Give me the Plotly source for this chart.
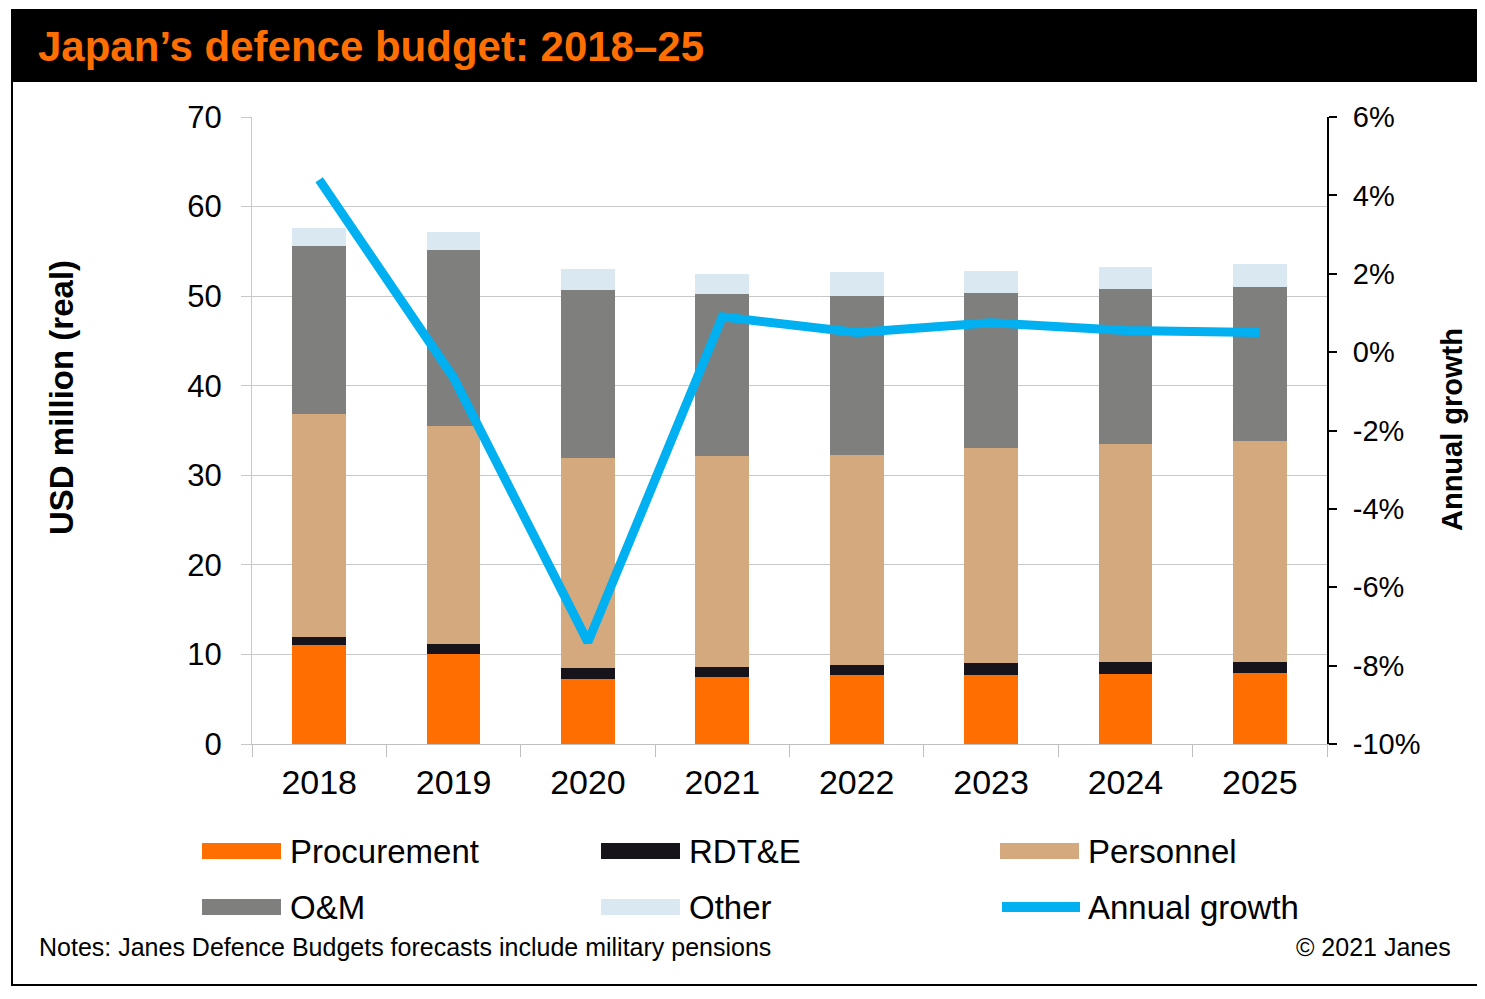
import plotly.graph_objects as go

# ---- data ----
years = ["2018", "2019", "2020", "2021", "2022", "2023", "2024", "2025"]
procurement = [11.0, 10.0, 7.3, 7.5, 7.7, 7.75, 7.8, 7.95]
rdte = [0.95, 1.2, 1.2, 1.05, 1.1, 1.3, 1.35, 1.25]
personnel = [24.9, 24.3, 23.4, 23.6, 23.5, 24.05, 24.3, 24.6]
om = [18.75, 19.6, 18.8, 18.05, 17.75, 17.3, 17.35, 17.2]
other = [2.0, 2.1, 2.3, 2.3, 2.65, 2.4, 2.5, 2.6]
growth = [4.4, -0.65, -7.4, 0.9, 0.5, 0.75, 0.55, 0.5]

left_ticks = [0, 10, 20, 30, 40, 50, 60, 70]
right_ticks = [-10, -8, -6, -4, -2, 0, 2, 4, 6]
right_tick_labels = ["-10%", "-8%", "-6%", "-4%", "-2%", "0%", "2%", "4%", "6%"]

series_names = ["Procurement", "RDT&E", "Personnel", "O&M", "Other", "Annual growth"]
colors = ["#FF6E00", "#16131B", "#D4A97E", "#7F7F7D", "#DAE8F2", "#00B0F0"]

title_text = "Japan’s defence budget: 2018–25"
notes_text = "Notes: Janes Defence Budgets forecasts include military pensions"
copyright_text = "© 2021 Janes"

# ---- layout geometry (reference pixels; page body adds an 8px margin) ----
OFF = 8
W, H = 1485 - OFF, 999 - 2 * OFF
L, R, T, B = 252 - OFF, 1327 - OFF, 117 - OFF, 744 - OFF
FONT = "Liberation Sans, Arial, sans-serif"


def px(x):
    return (x - OFF - L) / (R - L)


def py(y):
    return (B - (y - OFF)) / (B - T)


fig = go.Figure()
bar_values = [procurement, rdte, personnel, om, other]
for name, vals, col in zip(series_names[:5], bar_values, colors[:5]):
    fig.add_trace(go.Bar(x=years, y=vals, name=name, marker=dict(color=col, line=dict(width=0)),
                         showlegend=False, yaxis="y"))

fig.add_trace(go.Scatter(x=years, y=growth, name=series_names[5], mode="lines",
                         line=dict(color=colors[5], width=9), yaxis="y2", showlegend=False))

shapes = []
annotations = []

# outer frame and title bar
shapes.append(dict(type="rect", xref="paper", yref="paper", x0=px(12), x1=px(1478), y0=py(10), y1=py(82),
                   fillcolor="#000000", line=dict(width=0), layer="below"))
shapes.append(dict(type="rect", xref="paper", yref="paper", x0=px(12), x1=px(1478), y0=py(10), y1=py(985),
                   fillcolor="rgba(0,0,0,0)", line=dict(color="#000000", width=2)))
annotations.append(dict(text=f"<b>{title_text}</b>", xref="paper", yref="paper", x=px(36), y=py(47),
                        xanchor="left", yanchor="middle", showarrow=False,
                        font=dict(family=FONT, size=42, color="#FF6E00")))

# axis titles
annotations.append(dict(text="<b>USD million (real)</b>", xref="paper", yref="paper", x=px(61), y=py(398),
                        textangle=-90, showarrow=False, xanchor="center", yanchor="middle",
                        font=dict(family=FONT, size=33, color="#000000")))
annotations.append(dict(text="<b>Annual growth</b>", xref="paper", yref="paper", x=px(1452), y=py(430),
                        textangle=-90, showarrow=False, xanchor="center", yanchor="middle",
                        font=dict(family=FONT, size=29, color="#000000")))

# custom legend
legend_pos = [(202, 851), (601, 851), (1000, 851), (202, 907), (601, 907), (1000, 907)]
for i, (name, col) in enumerate(zip(series_names, colors)):
    x0, yc = legend_pos[i]
    if i < 5:
        shapes.append(dict(type="rect", xref="paper", yref="paper", x0=px(x0), x1=px(x0 + 79),
                           y0=py(yc - 8), y1=py(yc + 8), fillcolor=col, line=dict(width=0)))
    else:
        shapes.append(dict(type="line", xref="paper", yref="paper", x0=px(x0 + 2), x1=px(x0 + 80),
                           y0=py(yc), y1=py(yc), line=dict(color=col, width=10)))
    annotations.append(dict(text=name, xref="paper", yref="paper", x=px(x0 + 86), y=py(yc),
                            xanchor="left", yanchor="middle", showarrow=False,
                            font=dict(family=FONT, size=33, color="#000000")))

# notes
annotations.append(dict(text=notes_text, xref="paper", yref="paper", x=px(37), y=py(947),
                        xanchor="left", yanchor="middle", showarrow=False,
                        font=dict(family=FONT, size=25, color="#000000")))
annotations.append(dict(text=copyright_text, xref="paper", yref="paper", x=px(1453), y=py(947),
                        xanchor="right", yanchor="middle", showarrow=False,
                        font=dict(family=FONT, size=25, color="#000000")))

fig.update_layout(
    width=W, height=H,
    margin=dict(l=L, r=W - R, t=T, b=H - B, pad=0),
    paper_bgcolor="#FFFFFF", plot_bgcolor="#FFFFFF",
    barmode="stack", bargap=0.6,
    font=dict(family=FONT, color="#000000"),
    xaxis=dict(type="category", showgrid=False, showline=True, linecolor="#BFBFBF", linewidth=1,
               ticks="outside", tickson="boundaries", ticklen=12, tickcolor="#BFBFBF", tickwidth=1,
               tickfont=dict(family=FONT, size=34, color="#000000"), ticklabelstandoff=8,
               zeroline=False),
    yaxis=dict(range=[0, 70], tickvals=left_ticks, showgrid=True, gridcolor="#C8C8C8", gridwidth=1,
               showline=True, linecolor="#C8C8C8", linewidth=1, ticks="outside", ticklen=10,
               tickcolor="#C8C8C8", tickfont=dict(family=FONT, size=31, color="#000000"),
               ticklabelstandoff=13, zeroline=False),
    yaxis2=dict(range=[-10, 6], tickvals=right_ticks, ticktext=right_tick_labels, overlaying="y",
                side="right", showgrid=False, showline=True, linecolor="#000000", linewidth=2,
                ticks="outside", ticklen=8, tickwidth=2, tickcolor="#000000",
                tickfont=dict(family=FONT, size=29, color="#000000"), ticklabelstandoff=10,
                zeroline=False),
    shapes=shapes, annotations=annotations,
)

fig.write_html("out.html")
